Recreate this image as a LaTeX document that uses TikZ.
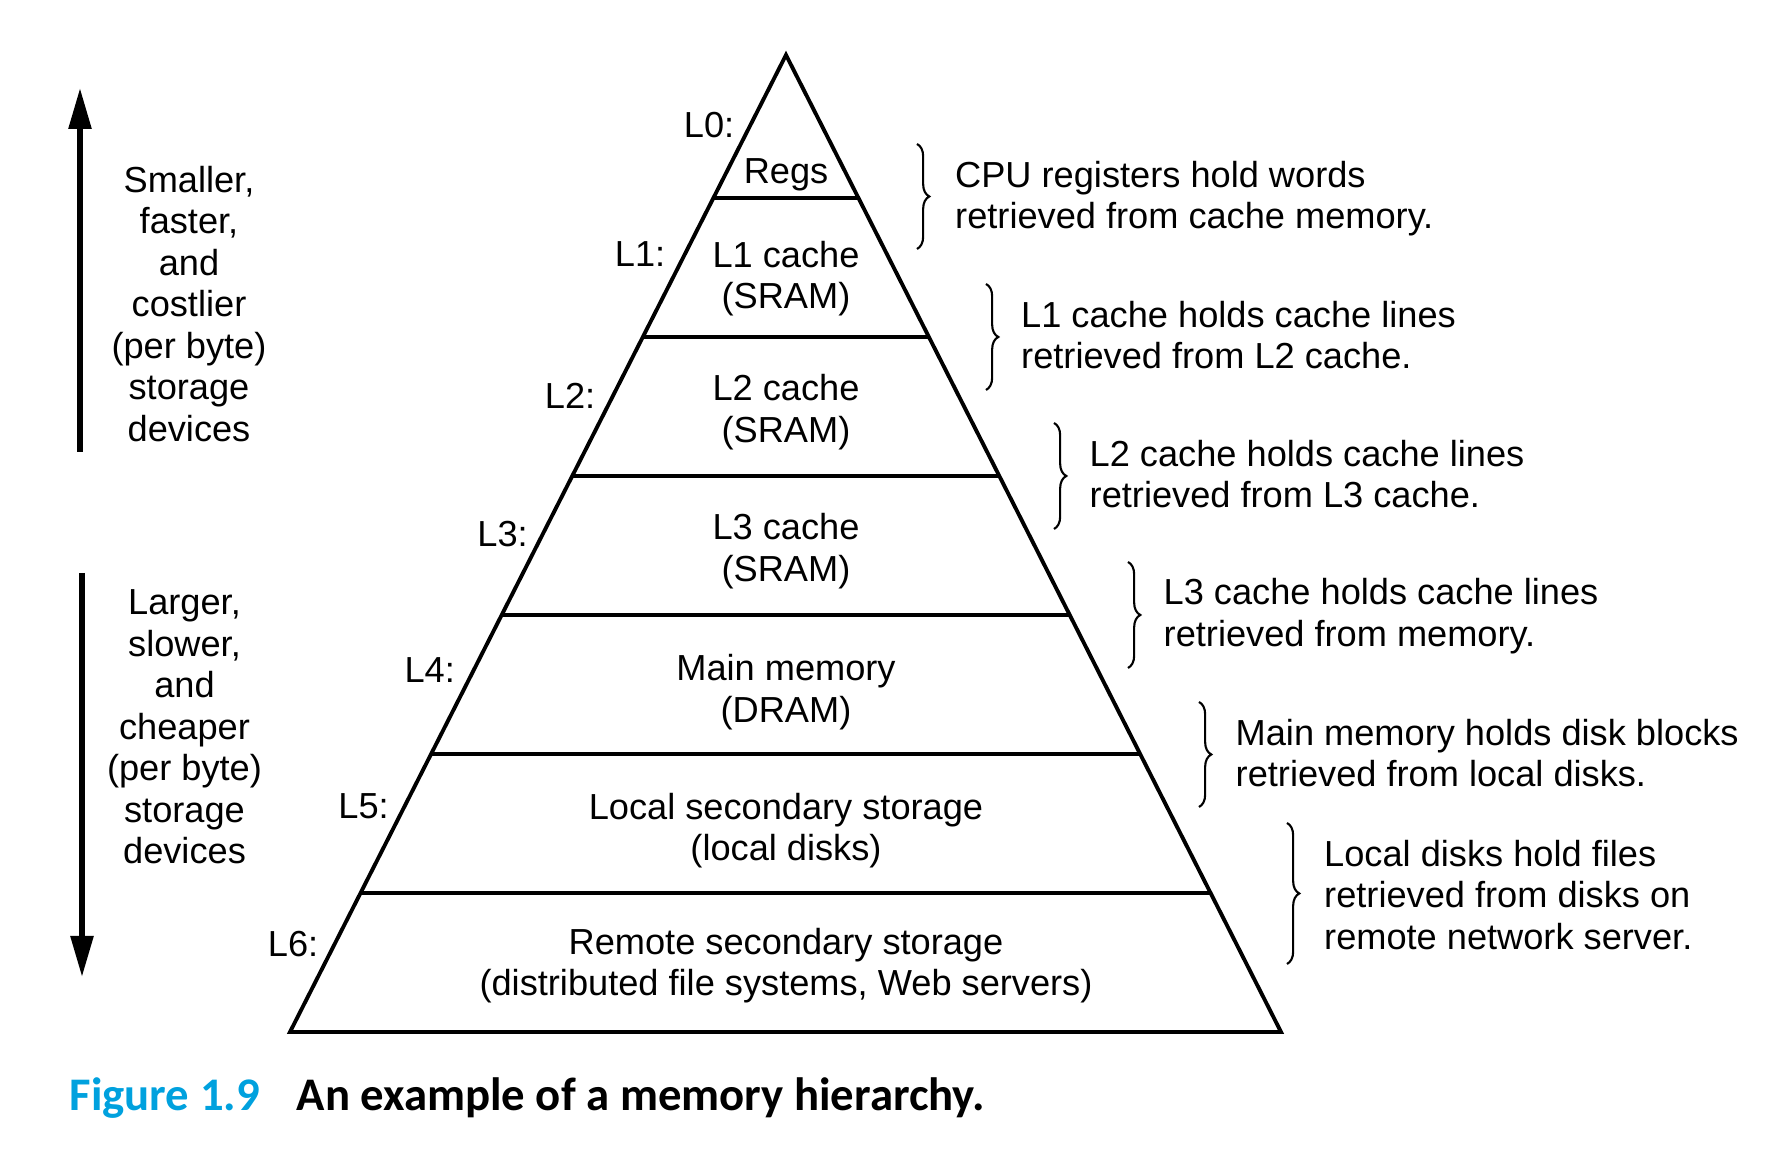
\documentclass[tikz,border=0pt]{standalone}
\usepackage{fontspec}
\setmainfont{Liberation Sans}
\newfontfamily\capfont{Carlito}
\usetikzlibrary{positioning,calc,arrows.meta,decorations.pathreplacing}
\definecolor{figcyan}{RGB}{0,161,222}

\begin{document}
\begin{tikzpicture}[
    tier/.style={font=\fontsize{10.3}{11.8}\selectfont, align=center, inner sep=0pt},
    lab/.style={font=\fontsize{10.3}{11.8}\selectfont, anchor=east, inner sep=0pt},
    note/.style={font=\fontsize{10.3}{11.8}\selectfont, align=left, anchor=west, inner sep=0pt},
    side/.style={font=\fontsize{10.3}{11.8}\selectfont, align=center, inner sep=0pt},
    outline/.style={line width=1.1pt, line join=miter},
    hbrace/.style={decorate, decoration={brace, amplitude=3.5pt}, line width=0.6pt},
    bigarrow/.style={-{Triangle[length=4.1mm, width=2.2mm]}, line width=1.6pt},
    capt/.style={font=\capfont\bfseries\fontsize{13.3}{15}\selectfont, anchor=base west, inner sep=0pt}
]
\useasboundingbox (0,0) rectangle (17.86,11.5);

% Pyramid
\coordinate (apex) at (7.86,10.95);
\coordinate (bl) at (2.90,1.18);
\coordinate (br) at (12.81,1.18);
\draw[outline] (apex) -- (bl) -- (br) -- cycle;
\foreach \t in {0.1464,0.2886,0.4309,0.5732,0.7155,0.8577}
  \draw[outline] ($(apex)!\t!(bl)$) -- ($(apex)!\t!(br)$);

% Levels
\node[tier] (regs) at (7.86,9.755) {Regs};
\node[tier] (l1) at (7.86,8.715) {L1 cache\\(SRAM)};
\node[tier] (l2) at (7.86,7.38) {L2 cache\\(SRAM)};
\node[tier] (l3) at (7.86,5.99) {L3 cache\\(SRAM)};
\node[tier] (mem) at (7.86,4.58) {Main memory\\(DRAM)};
\node[tier] (local) at (7.86,3.195) {Local secondary storage\\(local disks)};
\node[tier] (remote) at (7.86,1.845) {Remote secondary storage\\(distributed file systems, Web servers)};

% Level labels
\node[lab] (lab0) at (7.35,10.25) {L0:};
\node[lab] (lab1) at (6.66,8.96) {L1:};
\node[lab] (lab2) at (5.96,7.54) {L2:};
\node[lab] (lab3) at (5.285,6.16) {L3:};
\node[lab] (lab4) at (4.556,4.80) {L4:};
\node[lab] (lab5) at (3.895,3.44) {L5:};
\node[lab] (lab6) at (3.19,2.06) {L6:};

% Braces
\coordinate (b1t) at (9.17,10.06); \coordinate (b1b) at (9.17,9.01);
\coordinate (b2t) at (9.86,8.66);  \coordinate (b2b) at (9.86,7.60);
\coordinate (b3t) at (10.54,7.27); \coordinate (b3b) at (10.54,6.21);
\coordinate (b4t) at (11.28,5.88); \coordinate (b4b) at (11.28,4.82);
\coordinate (b5t) at (11.99,4.48); \coordinate (b5b) at (11.99,3.43);
\coordinate (b6t) at (12.87,3.27); \coordinate (b6b) at (12.87,1.86);
\draw[hbrace] (b1t) -- (b1b);
\draw[hbrace] (b2t) -- (b2b);
\draw[hbrace] (b3t) -- (b3b);
\draw[hbrace] (b4t) -- (b4b);
\draw[hbrace] (b5t) -- (b5b);
\draw[hbrace] (b6t) -- (b6b);

% Notes
\node[note] (n1) at (9.545,9.515) {CPU registers hold words\\retrieved from cache memory.};
\node[note] (n2) at (10.205,8.15) {L1 cache holds cache lines\\retrieved from L2 cache.};
\node[note] (n3) at (10.89,6.76) {L2 cache holds cache lines\\retrieved from L3 cache.};
\node[note] (n4) at (11.63,5.34) {L3 cache holds cache lines\\retrieved from memory.};
\node[note] (n5) at (12.35,3.97) {Main memory holds disk blocks\\retrieved from local disks.};
\node[note] (n6) at (13.235,2.55) {Local disks hold files\\retrieved from disks on\\remote network server.};

% Side arrows
\coordinate (uplo) at (0.80,6.98);
\coordinate (uphi) at (0.80,10.62);
\coordinate (dnhi) at (0.82,5.77);
\coordinate (dnlo) at (0.82,1.73);
\draw[bigarrow] (uplo) -- (uphi);
\draw[bigarrow] (dnhi) -- (dnlo);
\node[side] (faster) at (1.89,8.46) {Smaller,\\faster,\\and\\costlier\\(per byte)\\storage\\devices};
\node[side] (slower) at (1.845,4.23) {Larger,\\slower,\\and\\cheaper\\(per byte)\\storage\\devices};

% Caption
\node[capt, text=figcyan] (fignum) at (0.69,0.39) {Figure 1.9};
\node[capt] (figtitle) at (2.96,0.39) {An example of a memory hierarchy.};

\end{tikzpicture}
\end{document}
